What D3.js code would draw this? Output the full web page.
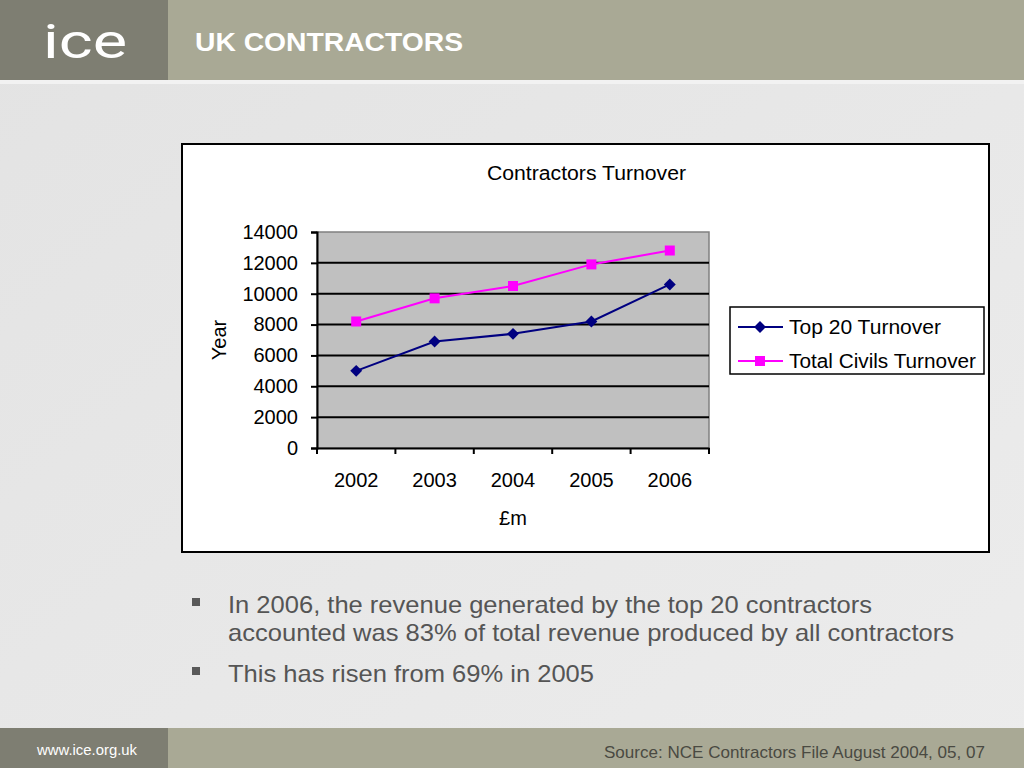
<!DOCTYPE html>
<html><head><meta charset="utf-8">
<script src="https://cdn.jsdelivr.net/npm/d3@7"></script>
<style>
html,body{margin:0;padding:0;width:1024px;height:768px;overflow:hidden;}
svg{display:block;}
</style></head>
<body>
<svg id="c" width="1024" height="768"></svg>
<script>
const years = ["2002","2003","2004","2005","2006"];
const top20 = [5000, 6900, 7400, 8200, 10600];
const totalCivils = [8200, 9700, 10500, 11900, 12800];
const yTicks = [0,2000,4000,6000,8000,10000,12000,14000];
const seriesNames = ["Top 20 Turnover","Total Civils Turnover"];
const bullets = [
  ["In 2006, the revenue generated by the top 20 contractors","accounted was 83% of total revenue produced by all contractors"],
  ["This has risen from 69% in 2005"]
];

const svg = d3.select("#c");
const sans = "'Liberation Sans',Arial,Helvetica,sans-serif";

function txt(x, yy, s, size, opts = {}) {
  const t = svg.append("text").attr("x", x).attr("y", yy).attr("font-family", opts.family || sans)
    .attr("font-size", size).attr("fill", opts.fill || "#000").text(s);
  if (opts.anchor) t.attr("text-anchor", opts.anchor);
  if (opts.weight) t.attr("font-weight", opts.weight);
  if (opts.len) t.attr("textLength", opts.len).attr("lengthAdjust", "spacingAndGlyphs");
  return t;
}

// background
const defs = svg.append("defs");
const g = defs.append("linearGradient").attr("id","bg").attr("x1","0").attr("y1","0").attr("x2","1").attr("y2","1");
g.append("stop").attr("offset","0").attr("stop-color","#e3e3e3");
g.append("stop").attr("offset","1").attr("stop-color","#ececec");
svg.append("rect").attr("width",1024).attr("height",768).attr("fill","url(#bg)");
svg.append("rect").attr("x",0).attr("y",80).attr("width",1024).attr("height",4).attr("fill","#f2f2f2");

// header
svg.append("rect").attr("x",0).attr("y",0).attr("width",1024).attr("height",80).attr("fill","#a9a995");
svg.append("rect").attr("x",0).attr("y",0).attr("width",168).attr("height",80).attr("fill","#7e7e72");
txt(43, 58, "ice", 48, {family:"Roboto,'Open Sans',sans-serif", weight:400, fill:"#fff", len:84});
txt(195, 51, "UK CONTRACTORS", 25, {weight:"bold", fill:"#fff", len:268});

// footer
svg.append("rect").attr("x",0).attr("y",728).attr("width",1024).attr("height",40).attr("fill","#a9a995");
svg.append("rect").attr("x",0).attr("y",728).attr("width",168).attr("height",40).attr("fill","#7e7e72");
txt(37, 755, "www.ice.org.uk", 14, {fill:"#fff", len:100});
txt(604, 758, "Source: NCE Contractors File August 2004, 05, 07", 17, {fill:"#4a4a42", len:381});

// chart box
svg.append("rect").attr("x",182).attr("y",144).attr("width",807).attr("height",408)
  .attr("fill","#fff").attr("stroke","#000").attr("stroke-width",2);

txt(487, 180, "Contractors Turnover", 20, {len:199});

const pl = 317, pr = 709, pt = 232, pb = 448;
const x = d3.scaleBand().domain(years).range([pl,pr]);
const y = d3.scaleLinear().domain([0,14000]).range([pb,pt]);

svg.append("rect").attr("x",pl).attr("y",pt).attr("width",pr-pl).attr("height",pb-pt)
  .attr("fill","#c0c0c0").attr("stroke","#808080").attr("stroke-width",1.5);

// gridlines
svg.append("g").selectAll("line").data(yTicks.filter(d=>d>0 && d<14000)).join("line")
  .attr("x1",pl).attr("x2",pr).attr("y1",d=>y(d)).attr("y2",d=>y(d))
  .attr("stroke","#000").attr("stroke-width",2);

// y axis
const ya = svg.append("g").attr("transform",`translate(${pl},0)`)
  .call(d3.axisLeft(y).tickValues(yTicks).tickSize(6).tickPadding(13).tickFormat(d3.format("d")));
ya.select(".domain").attr("stroke","#000").attr("stroke-width",2);
ya.selectAll(".tick line").attr("stroke","#000").attr("stroke-width",2);
ya.selectAll("text").attr("font-family",sans).attr("font-size",20).attr("fill","#000");

// x axis
const xa = svg.append("g").attr("transform",`translate(0,${pb})`)
  .call(d3.axisBottom(x).tickSize(0).tickPadding(25));
xa.select(".domain").attr("stroke","#000").attr("stroke-width",2);
xa.selectAll("text").attr("font-family",sans).attr("font-size",20).attr("fill","#000");
// category separator ticks
svg.append("g").selectAll("line").data(years.concat(["end"])).join("line")
  .attr("x1",(d,i)=> i<years.length ? x(d) : pr).attr("x2",(d,i)=> i<years.length ? x(d) : pr)
  .attr("y1",pb).attr("y2",pb+6).attr("stroke","#000").attr("stroke-width",2);

txt(513, 525, "£m", 20, {anchor:"middle"});
svg.append("text").attr("transform","translate(226,340) rotate(-90)").attr("text-anchor","middle")
  .attr("font-family",sans).attr("font-size",20).text("Year");

// lines
const cx = d=>x(d)+x.bandwidth()/2;
const line = d3.line().x((d,i)=>cx(years[i])).y(d=>y(d));
svg.append("path").datum(top20).attr("d",line).attr("fill","none").attr("stroke","#000080").attr("stroke-width",2);
svg.append("path").datum(totalCivils).attr("d",line).attr("fill","none").attr("stroke","#ff00ff").attr("stroke-width",2);

const diamond = d3.symbol().type(d3.symbolDiamond2).size(90);
svg.append("g").selectAll("path").data(top20).join("path")
  .attr("d",diamond).attr("transform",(d,i)=>`translate(${cx(years[i])},${y(d)})`).attr("fill","#000080");
svg.append("g").selectAll("rect").data(totalCivils).join("rect")
  .attr("x",(d,i)=>cx(years[i])-5).attr("y",d=>y(d)-5).attr("width",10).attr("height",10).attr("fill","#ff00ff");

// legend
svg.append("rect").attr("x",730).attr("y",307).attr("width",254).attr("height",67)
  .attr("fill","#fff").attr("stroke","#000").attr("stroke-width",1.5);
const leg = [{c:"#000080",t:"diamond",len:152},{c:"#ff00ff",t:"square",len:187}];
leg.forEach((l,i)=>{
  const ly = 327 + i*34;
  svg.append("line").attr("x1",738).attr("x2",783).attr("y1",ly).attr("y2",ly).attr("stroke",l.c).attr("stroke-width",2);
  if(l.t==="diamond") svg.append("path").attr("d",diamond).attr("transform",`translate(760,${ly})`).attr("fill",l.c);
  else svg.append("rect").attr("x",755).attr("y",ly-5).attr("width",10).attr("height",10).attr("fill",l.c);
  txt(789, ly+7, seriesNames[i], 20, {len:l.len});
});

// bullets
const by = [613, 682];
const blen = [[644, 726],[366]];
bullets.forEach((b,i)=>{
  svg.append("rect").attr("x",192).attr("y",by[i]-15).attr("width",8).attr("height",8).attr("fill","#595959");
  b.forEach((t,j)=>{
    txt(228, by[i]+j*28, t, 24, {fill:"#555555", len:blen[i][j]});
  });
});
</script>
</body></html>
